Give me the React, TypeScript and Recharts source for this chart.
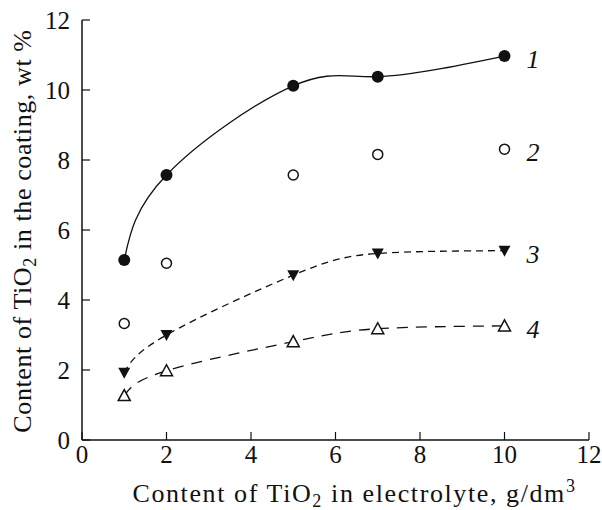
import { LineChart, Line, XAxis, YAxis } from "recharts";

const xValues = [1, 2, 5, 7, 10];
const series1 = [5.14, 7.57, 10.12, 10.38, 10.97];
const series2 = [3.33, 5.05, 7.57, 8.16, 8.31];
const series3 = [1.92, 3.0, 4.71, 5.33, 5.41];
const series4 = [1.27, 1.98, 2.81, 3.18, 3.26];
const seriesNames = ["1", "2", "3", "4"];
const ticks = [0, 2, 4, 6, 8, 10, 12];

const data = xValues.map((x, i) => ({
  x,
  s1: series1[i],
  s2: series2[i],
  s3: series3[i],
  s4: series4[i],
}));

const FONT = "Liberation Serif";
const last = xValues.length - 1;

type Kind = "disc" | "circle" | "down" | "up";

const makeDot = (kind: Kind, name: string) => (props: any) => {
  const { cx, cy, index } = props;
  if (cx == null || cy == null) return <g key={index} />;
  let mark;
  if (kind === "disc") mark = <circle cx={cx} cy={cy} r={6} fill="#111" />;
  else if (kind === "circle")
    mark = <circle cx={cx} cy={cy} r={5} fill="#fff" stroke="#111" strokeWidth={1.5} />;
  else if (kind === "down")
    mark = <path d={`M${cx - 6},${cy - 5}L${cx + 6},${cy - 5}L${cx},${cy + 6}Z`} fill="#111" />;
  else
    mark = (
      <path
        d={`M${cx - 6},${cy + 5}L${cx + 6},${cy + 5}L${cx},${cy - 6}Z`}
        fill="#fff"
        stroke="#111"
        strokeWidth={1.5}
      />
    );
  return (
    <g key={index}>
      {mark}
      {index === last && (
        <text x={cx + 22} y={cy + 3} dy="0.35em" fontFamily={FONT} fontStyle="italic" fontSize={26} fill="#111">
          {name}
        </text>
      )}
    </g>
  );
};

const XTick = (props: any) => {
  const { x, y, payload } = props;
  return (
    <text x={x} y={y + 13} textAnchor="middle" dy="0.71em" fontFamily={FONT} fontSize={25} fill="#111">
      {payload.value}
    </text>
  );
};

const YTick = (props: any) => {
  const { y, payload } = props;
  return (
    <text x={70} y={y} textAnchor="end" dy="0.35em" fontFamily={FONT} fontSize={25} fill="#111">
      {payload.value}
    </text>
  );
};

const XLabel = (props: any) => {
  const { viewBox } = props;
  const cx = viewBox.x + viewBox.width / 2 + 19;
  return (
    <text
      x={cx}
      y={viewBox.y + 62}
      textAnchor="middle"
      fontFamily={FONT}
      fontSize={26}
      letterSpacing={1.6}
      fill="#111"
    >
      Content of TiO<tspan fontSize={18} dy={5}>2</tspan>
      <tspan dy={-5}> in electrolyte, g/dm</tspan>
      <tspan fontSize={18} dy={-10}>3</tspan>
    </text>
  );
};

const YLabel = (props: any) => {
  const { viewBox } = props;
  const cy = viewBox.y + viewBox.height / 2 + 1;
  const x = 31;
  return (
    <text
      x={x}
      y={cy}
      transform={`rotate(-90 ${x} ${cy})`}
      textAnchor="middle"
      fontFamily={FONT}
      fontSize={26}
      letterSpacing={0.6}
      fill="#111"
    >
      Content of TiO<tspan fontSize={18} dy={5}>2</tspan>
      <tspan dy={-5}> in the coating, wt %</tspan>
    </text>
  );
};

export default function App() {
  return (
    <div style={{ position: "absolute", left: 0, top: 0, background: "#fff" }}>
      <LineChart width={602} height={510} data={data} margin={{ top: 20, right: 13, bottom: 0, left: 0 }}>
        <XAxis
          type="number"
          dataKey="x"
          domain={[0, 12]}
          ticks={ticks}
          height={70}
          tickSize={-8}
          tickMargin={0}
          tick={<XTick />}
          axisLine={{ stroke: "#111", strokeWidth: 1.5 }}
          tickLine={{ stroke: "#111", strokeWidth: 1.2 }}
          interval={0}
          label={<XLabel />}
        />
        <YAxis
          type="number"
          domain={[0, 12]}
          ticks={ticks}
          width={82}
          tickSize={-8}
          tickMargin={0}
          tick={<YTick />}
          axisLine={{ stroke: "#111", strokeWidth: 1.5 }}
          tickLine={{ stroke: "#111", strokeWidth: 1.2 }}
          interval={0}
          label={<YLabel />}
        />
        <Line
          dataKey="s1"
          type="natural"
          stroke="#111"
          strokeWidth={1.3}
          dot={makeDot("disc", seriesNames[0])}
          activeDot={false}
          isAnimationActive={false}
        />
        <Line
          dataKey="s2"
          stroke="none"
          dot={makeDot("circle", seriesNames[1])}
          activeDot={false}
          isAnimationActive={false}
        />
        <Line
          dataKey="s3"
          type="natural"
          stroke="#111"
          strokeWidth={1.3}
          strokeDasharray="7 5"
          dot={makeDot("down", seriesNames[2])}
          activeDot={false}
          isAnimationActive={false}
        />
        <Line
          dataKey="s4"
          type="natural"
          stroke="#111"
          strokeWidth={1.3}
          strokeDasharray="11 8"
          dot={makeDot("up", seriesNames[3])}
          activeDot={false}
          isAnimationActive={false}
        />
      </LineChart>
    </div>
  );
}
